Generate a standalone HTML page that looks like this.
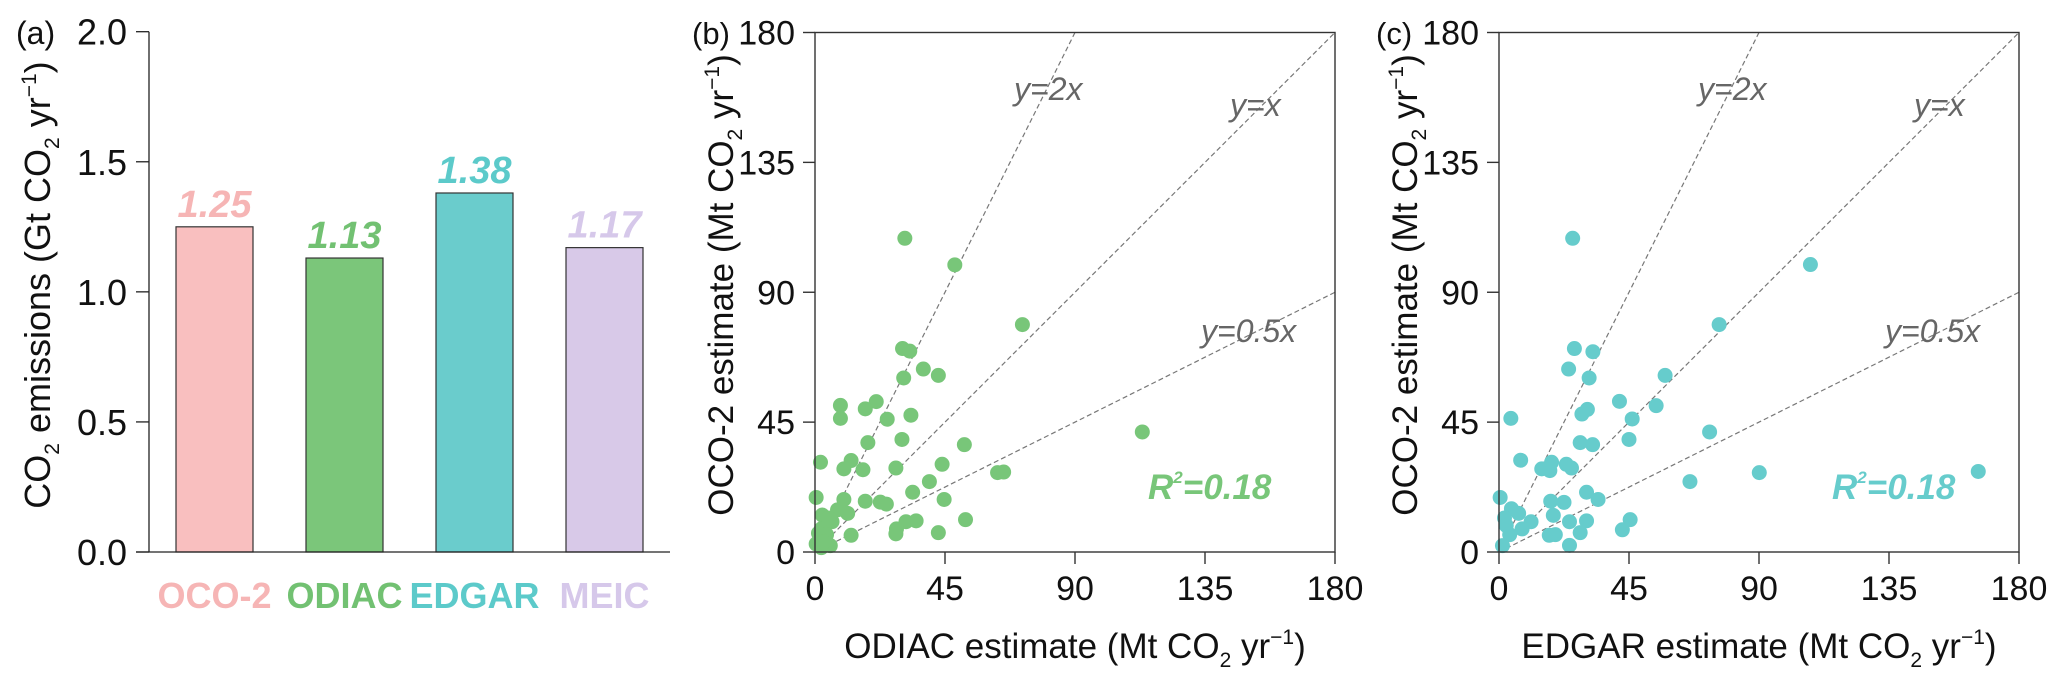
<!DOCTYPE html>
<html><head><meta charset="utf-8"><style>
body{margin:0;background:#fff;}
svg{display:block;font-family:"Liberation Sans",Arial,sans-serif;}
</style></head><body>
<svg id="chart" width="2067" height="680" viewBox="0 0 2067 680"></svg>
<script>
const barCats=["OCO-2","ODIAC","EDGAR","MEIC"];
const barVals=[1.25,1.13,1.38,1.17];
const barLabels=["1.25","1.13","1.38","1.17"];
const barTicks=[0,0.5,1.0,1.5,2.0];
const barTickLabels=["0.0","0.5","1.0","1.5","2.0"];
const scatTicks=[0,45,90,135,180];
const odiacX=[31.1,48.4,71.8,113.3,30.3,32.8,37.5,42.7,30.7,8.8,8.8,21.2,17.4,25,33.2,18.3,30.1,51.7,1.9,12.5,10,16.6,28,44,63.2,65.3,39.6,0.4,10,17.4,22.6,24.7,33.8,44.7,2.5,7.8,11.3,5.9,52.1,31.5,35,28.2,28,12.5,42.7,2.2,4,1.6,5.3,2.2,0.4,4.7,1.2,3];
const odiacY=[108.7,99.5,78.8,41.6,70.5,69.6,63.4,61.2,60.3,50.8,46.3,52.1,49.6,46,47.4,37.9,39,37.2,31.1,31.7,28.8,28.5,29.1,30.4,27.5,27.7,24.4,18.9,18.2,17.6,17.3,16.6,20.7,18.2,12.8,14.6,13.4,10.5,11.2,10.5,10.8,8,6.3,5.8,6.7,8,6,4.1,2.2,1.5,2.8,11.8,6.5,3.5];
const edgarX=[25.5,107.8,76.2,26.1,32.5,24.1,57.5,31.2,41.7,54.4,4.1,28.7,30.6,46.1,28.1,32.4,45,72.9,7.5,14.8,17.6,18.2,23.3,25.1,66.1,90.1,165.9,0.4,17.9,22.5,30.3,34.3,18.8,24.4,30.3,45.4,42.7,17.4,19.5,28.1,24.4,11.1,4.3,6.8,8,1.9,3.7,1.2,2.5];
const edgarY=[108.7,99.6,78.8,70.5,69.4,63.4,61.2,60.3,52.2,50.7,46.3,47.8,49.4,46.1,37.9,37.2,39,41.6,31.8,28.8,28.2,31.1,30.4,29.1,24.4,27.5,27.9,18.9,17.6,17.2,20.7,18.2,12.7,10.5,10.8,11.2,7.7,5.8,6,6.7,2.3,10.5,15,13.4,8,11.8,6,2.2,9.2];
const refSlopes=[2,1,0.5];
const refLabels=["y=2x","y=x","y=0.5x"];

const svg=document.getElementById('chart');
const NS="http://www.w3.org/2000/svg";
function mk(tag,attrs,parent,text){const e=document.createElementNS(NS,tag);for(const k in attrs)e.setAttribute(k,attrs[k]);if(text!==undefined)e.textContent=text;(parent||svg).appendChild(e);return e;}
const SUB='font-size="21" dy="9"', SUP='font-size="21" dy="-14"';

// ---------- Panel A ----------
const A={x0:149,x1:670,yTop:31.7,yBot:552,max:2.0};
const ay=v=>A.yBot-(v/A.max)*(A.yBot-A.yTop);
const barColors=["#f9bfbf","#7bc67a","#6acccc","#d8c9e8"];
const labColors=["#f6b5b5","#72c172","#5ccaca","#d6c8ea"];
const ga=mk('g',{});


barVals.forEach((v,i)=>{
  const cx=214.5+i*130;
  const r=mk('rect',{x:cx-38.5,y:ay(v),width:77,height:A.yBot-ay(v),fill:barColors[i],stroke:"#333","stroke-width":1.2},ga);
  
  
  const t=mk('text',{x:cx,y:ay(v)-10,"text-anchor":"middle","font-size":38,"font-weight":"bold","font-style":"italic",fill:labColors[i]},ga,barLabels[i]);
  
  
  const c=mk('text',{x:cx,y:608,"text-anchor":"middle","font-size":36,"font-weight":"bold",fill:labColors[i]},ga,barCats[i]);
  
  
});
mk('line',{x1:A.x0,y1:A.yTop,x2:A.x0,y2:A.yBot,stroke:"#222","stroke-width":1.3},ga);
mk('line',{x1:136,y1:A.yBot,x2:A.x1,y2:A.yBot,stroke:"#222","stroke-width":1.3},ga);
barTicks.forEach((v,i)=>{
  mk('line',{x1:136,y1:ay(v),x2:A.x0,y2:ay(v),stroke:"#222","stroke-width":1.3},ga);
  const t=mk('text',{x:127,y:ay(v)+13,"text-anchor":"end","font-size":36,fill:"#111"},ga,barTickLabels[i]);
  
  
});
const ta=mk('text',{transform:"translate(50,285) rotate(-90)","text-anchor":"middle","font-size":36,fill:"#111"},ga);


ta.innerHTML='CO<tspan '+SUB+'>2</tspan><tspan dy="-9"> emissions (Gt CO</tspan><tspan '+SUB+'>2</tspan><tspan dy="-9"> yr</tspan><tspan '+SUP+'>−1</tspan><tspan dy="14">)</tspan>';
const pa=mk('text',{x:16,y:44,"font-size":32,fill:"#111"},ga,"(a)");



// ---------- Scatter panels ----------
function scatter(name,x0,xs,ys,color,xTitle,ytitleX,plabel,plabelX){
  const P={x0:x0,x1:x0+520,yTop:32.5,yBot:552,max:180};
  const sx=v=>P.x0+v/P.max*(P.x1-P.x0);
  const sy=v=>P.yBot-v/P.max*(P.yBot-P.yTop);
  const g=mk('g',{});
  
  
  const clipId='clip-'+name;
  const cp=mk('clipPath',{id:clipId},g);mk('rect',{x:P.x0,y:P.yTop,width:P.x1-P.x0,height:P.yBot-P.yTop},cp);
  refSlopes.forEach((s,i)=>{
    const xe=Math.min(P.max,P.max/s);
    const l=mk('line',{x1:sx(0),y1:sy(0),x2:sx(xe),y2:sy(xe*s),stroke:"#777","stroke-width":1.2,"stroke-dasharray":"5,3","clip-path":"url(#"+clipId+")"},g);
    
    
  });
  const lp=[[199,100],[415,116],[386,342]];
  refLabels.forEach((lb,i)=>{
    const t=mk('text',{x:P.x0+lp[i][0],y:lp[i][1],"font-size":32,"font-style":"italic",fill:"#666"},g,lb);
    
    
  });
  xs.forEach((v,i)=>{
    const c=mk('circle',{cx:sx(v),cy:sy(ys[i]),r:7.5,fill:color},g);
    
    
  });
  mk('rect',{x:P.x0,y:P.yTop,width:P.x1-P.x0,height:P.yBot-P.yTop,fill:"none",stroke:"#333","stroke-width":1.4},g);
  scatTicks.forEach(v=>{
    mk('line',{x1:sx(v),y1:P.yBot,x2:sx(v),y2:P.yBot+12,stroke:"#333","stroke-width":1.4},g);
    mk('line',{x1:P.x0-12,y1:sy(v),x2:P.x0,y2:sy(v),stroke:"#333","stroke-width":1.4},g);
    const tx=mk('text',{x:sx(v),y:P.yBot+48,"text-anchor":"middle","font-size":34,fill:"#111"},g,String(v));
    
    
    const ty=mk('text',{x:P.x0-20,y:sy(v)+12,"text-anchor":"end","font-size":34,fill:"#111"},g,String(v));
    
    
  });
  const r2=mk('text',{x:P.x0+333,y:499,"font-size":35,"font-weight":"bold","font-style":"italic",fill:color},g);
  
  
  r2.innerHTML='R<tspan font-size="17" dy="-16">2</tspan><tspan dy="16">=0.18</tspan>';
  const xt=mk('text',{x:(P.x0+P.x1)/2,y:658,"text-anchor":"middle","font-size":35,fill:"#111"},g);
  
  
  xt.innerHTML=xTitle+' estimate (Mt CO<tspan '+SUB+'>2</tspan><tspan dy="-9"> yr</tspan><tspan '+SUP+'>−1</tspan><tspan dy="14">)</tspan>';
  const yt=mk('text',{transform:"translate("+ytitleX+",285) rotate(-90)","text-anchor":"middle","font-size":35,fill:"#111"},g);
  
  
  yt.innerHTML='OCO-2 estimate (Mt CO<tspan '+SUB+'>2</tspan><tspan dy="-9"> yr</tspan><tspan '+SUP+'>−1</tspan><tspan dy="14">)</tspan>';
  const pl=mk('text',{x:plabelX,y:44,"font-size":31,fill:"#111"},g,plabel);
  
  
}
scatter('panel-b',815,odiacX,odiacY,"#78c679","ODIAC",733,"(b)",692);
scatter('panel-c',1499,edgarX,edgarY,"#66cccc","EDGAR",1417,"(c)",1376);
</script>
</body></html>
